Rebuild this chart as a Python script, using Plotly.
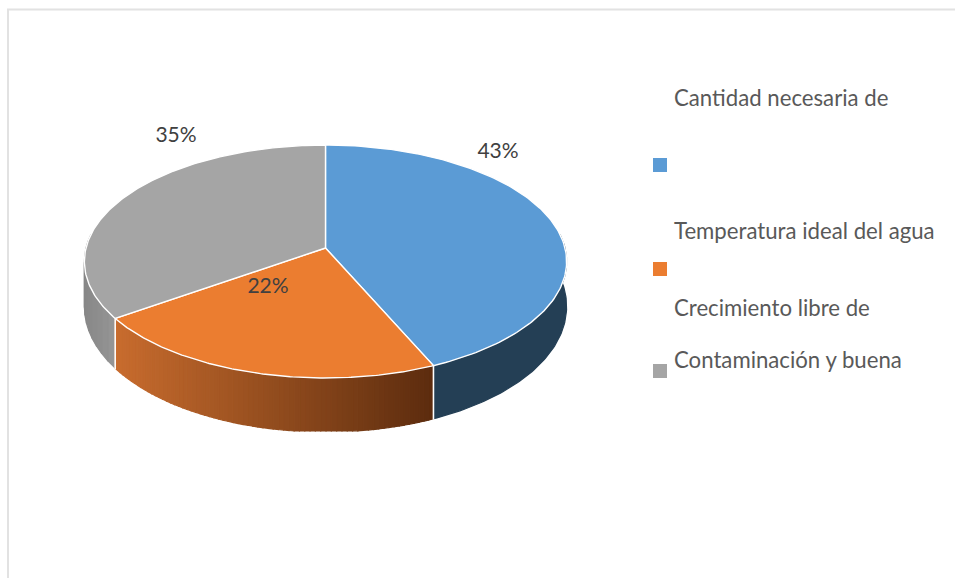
import numpy as np
import plotly.graph_objects as go

# ---- data ----
categories = ["Cantidad necesaria de", "Temperatura ideal del agua", "Crecimiento libre de"]
values = [43.4, 21.9, 34.7]
value_labels = ["43%", "22%", "35%"]
legend_lines = ["Cantidad necesaria de", "Temperatura ideal del agua",
                "Crecimiento libre de", "Contaminación y buena"]
top_colors = ["#5B9BD5", "#EB7D30", "#A5A5A5"]

# ---- geometry of the projected pie (page pixels) ----
CX, CY = 325.5, 248.0
RX, RY, PERSP = 239.5, 114.9, 0.1159
CLIP_Y = 431.0
W, H = 955, 578


def project(theta):
    u, v = np.sin(theta), -np.cos(theta)
    d = 1 - PERSP * v
    return CX + RX * u / d, CY + RY * v / d


def depth(theta):
    return 44.0 + 10.0 * (-np.cos(theta))


def mix(a, b, t):
    return "rgb(%d,%d,%d)" % tuple(round(a[i] + (b[i] - a[i]) * t) for i in range(3))


fig = go.Figure()


def poly(x, y, fill, line_color=None, line_width=0):
    fig.add_trace(go.Scatter(x=x, y=y, mode="lines", fill="toself", fillcolor=fill,
                             line=dict(color=line_color or fill, width=line_width),
                             hoverinfo="skip", showlegend=False))


def side(t0, t1, c0, c1, n, pts=6):
    edges = np.linspace(t0, t1, n + 1)
    xs, _ = project(edges)
    lo, hi = xs.min(), xs.max()
    for a, b in zip(edges[:-1], edges[1:]):
        tt = np.linspace(a, b, pts)
        x, y = project(tt)
        yb = np.minimum(y + depth(tt), CLIP_Y)
        px = np.r_[x, x[::-1], x[0]]
        py = np.r_[y, yb[::-1], y[0]]
        t = (x.mean() - lo) / (hi - lo)
        col = mix(c0, c1, t)
        poly(px, py, col, col, 1.2)


shares = np.array(values) / sum(values)
cum = np.r_[0, np.cumsum(shares)] * 2 * np.pi

# sides, front part only
side(np.pi / 2 - 0.12, cum[1], (36, 63, 85), (36, 63, 85), 1, 90)
side(cum[2], np.pi * 1.5 + 0.12, (135, 135, 135), (150, 150, 150), 12)
side(cum[1], cum[2], (200, 108, 46), (92, 44, 14), 70)
# gradient runs from left (light) to right (dark)

# white seams on the side
for t in (cum[1], cum[2]):
    tt = np.array([t])
    x, y = project(tt)
    fig.add_trace(go.Scatter(x=[x[0], x[0]], y=[y[0], min(y[0] + depth(t) + 1, CLIP_Y)], mode="lines",
                             line=dict(color="white", width=1.6), hoverinfo="skip", showlegend=False))

# top faces
for i in range(3):
    tt = np.linspace(cum[i], cum[i + 1], 160)
    x, y = project(tt)
    poly(np.r_[CX, x, CX], np.r_[CY, y, CY], top_colors[i], "white", 1.4)

# border of the chart area
fig.add_trace(go.Scatter(x=[8, 8, W], y=[H, 9.5, 9.5], mode="lines",
                         line=dict(color="#E2E2E2", width=2), hoverinfo="skip", showlegend=False))

# value labels
fig.add_trace(go.Scatter(x=[498, 268, 176], y=[152.5, 287.5, 136.5], mode="text", text=value_labels,
                         textposition="middle center",
                         textfont=dict(family="Lato", size=21, color="#404040"),
                         hoverinfo="skip", showlegend=False))

# legend
fig.add_trace(go.Scatter(x=[660, 660, 660], y=[165, 269, 371], mode="markers",
                         marker=dict(symbol="square", size=14, color=top_colors, line=dict(width=0)),
                         hoverinfo="skip", showlegend=False))
fig.add_trace(go.Scatter(x=[674] * 4, y=[100, 233, 310, 362], mode="text", text=legend_lines,
                         textposition="middle right",
                         textfont=dict(family="Lato", size=22.2, color="#595959"),
                         hoverinfo="skip", showlegend=False))

fig.update_layout(width=W, height=H, margin=dict(l=0, r=0, t=0, b=0),
                  paper_bgcolor="white", plot_bgcolor="white",
                  xaxis=dict(range=[0, W], visible=False, fixedrange=True),
                  yaxis=dict(range=[H, 0], visible=False, fixedrange=True))
fig.write_html("out.html", config=dict(displayModeBar=False),
               default_width=f"{W}px", default_height=f"{H}px",
               post_script="document.body.style.margin='0';document.body.style.overflow='hidden';")
